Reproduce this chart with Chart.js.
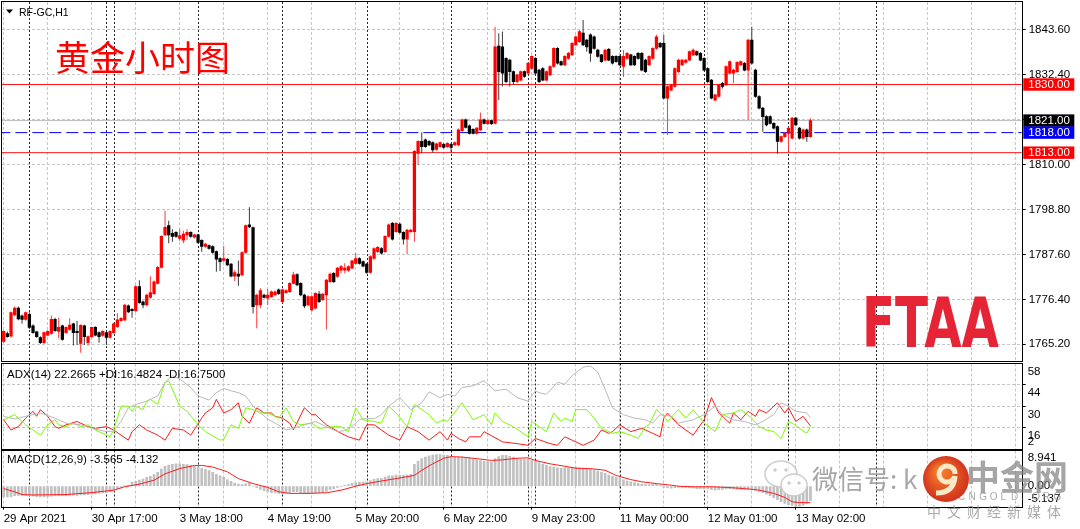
<!DOCTYPE html>
<html>
<head>
<meta charset="utf-8">
<script src="https://cdn.jsdelivr.net/npm/chart.js@4.4.1/dist/chart.umd.min.js"></script>
<style>
  html, body { margin: 0; padding: 0; background: #fff; }
  #wrap { position: relative; width: 1080px; height: 529px; overflow: hidden; background: #fff; }
  canvas { position: absolute; left: 0; }
</style>
</head>
<body>
<div id="wrap">
  <canvas id="main" width="1080" height="362" style="top:0px"></canvas>
  <canvas id="adx" width="1080" height="88" style="top:362px"></canvas>
  <canvas id="macd" width="1080" height="79" style="top:450px"></canvas>
</div>
<script>
// RF-GC H1, 29 Apr - 13 May 2021, one value per hourly bar
const opens = [
  1765.9,1767.9,1767.2,1772.5,1774.2,1772.3,1771.4,1772.7,1769.8,1768.3,
  1766.9,1765.6,1767.5,1767.9,1771.4,1768.4,1769.8,1768.1,1768.9,1770.3,
  1768.4,1765.4,1769.8,1765.6,1767.1,1769.4,1768.1,1767.4,1768.1,1766.9,
  1768.1,1769.6,1771.1,1771.3,1774.8,1773.9,1773.6,1779.6,1775.8,1775.0,
  1776.9,1777.8,1780.4,1784.4,1792.5,1794.8,1792.9,1793.1,1791.6,1791.2,
  1792.5,1793.1,1791.9,1792.5,1791.1,1789.6,1789.8,1789.6,1788.3,1786.6,
  1786.1,1786.4,1785.2,1782.2,1782.7,1782.5,1788.1,1795.0,1794.3,1775.0,
  1775.0,1777.5,1776.7,1777.1,1777.5,1778.8,1775.8,1778.1,1778.3,1780.4,
  1782.6,1780.4,1777.5,1775.0,1773.8,1774.2,1777.7,1776.3,1777.5,1780.8,
  1782.9,1782.1,1783.7,1783.7,1783.6,1784.2,1785.4,1786.6,1785.8,1785.2,
  1783.1,1786.6,1788.3,1789.1,1788.3,1792.1,1795.4,1793.3,1795.2,1793.1,
  1791.4,1793.3,1793.3,1812.8,1815.8,1816.2,1815.8,1815.5,1813.8,1814.5,
  1815.1,1814.5,1815.1,1814.9,1814.9,1818.5,1821.2,1819.7,1818.8,1817.8,
  1818.7,1821.2,1820.2,1821.0,1820.3,1839.6,1839.4,1836.5,1836.1,1833.2,
  1830.7,1831.1,1833.2,1832.8,1834.0,1836.5,1833.6,1834.0,1831.1,1832.4,
  1834.5,1839.0,1835.7,1834.9,1836.5,1837.4,1839.9,1840.7,1842.8,1841.1,
  1842.4,1841.9,1838.6,1837.4,1836.1,1838.8,1837.0,1837.0,1837.0,1834.5,
  1836.5,1837.4,1837.0,1837.8,1837.8,1836.1,1834.9,1836.5,1839.0,1840.3,
  1840.3,1826.6,1828.6,1829.5,1833.2,1834.9,1835.5,1836.1,1837.4,1838.2,
  1837.8,1836.5,1834.0,1831.1,1826.1,1827.0,1830.3,1829.9,1832.8,1832.8,
  1833.2,1834.9,1835.3,1833.6,1841.1,1833.6,1827.0,1824.1,1822.0,1822.0,
  1820.3,1819.5,1815.8,1817.0,1817.8,1816.6,1821.6,1819.1,1816.6,1818.7,
  1817.0
];
const highs = [
  1768.7,1768.4,1773.4,1774.6,1774.6,1772.6,1773.4,1773.2,1770.2,1768.6,
  1767.2,1768.4,1768.7,1772.4,1771.8,1771.8,1770.1,1769.7,1771.7,1770.6,
  1771.0,1770.2,1770.1,1767.4,1769.6,1769.7,1768.4,1768.7,1768.4,1768.7,
  1770.6,1773.0,1772.0,1775.3,1775.1,1774.2,1779.9,1781.2,1776.1,1777.8,
  1782.2,1781.1,1784.7,1792.4,1798.5,1796.0,1793.9,1793.4,1793.9,1793.5,
  1793.9,1793.4,1792.8,1792.8,1791.4,1790.5,1790.1,1789.9,1788.6,1786.9,
  1789.7,1786.7,1785.5,1783.7,1786.1,1788.4,1795.1,1799.4,1794.6,1777.8,
  1779.2,1777.8,1779.0,1778.6,1778.6,1779.1,1779.1,1778.9,1780.7,1783.3,
  1782.9,1780.7,1777.8,1777.4,1777.4,1778.2,1778.5,1778.0,1781.5,1783.1,
  1783.2,1784.5,1785.0,1785.4,1784.9,1786.3,1787.9,1786.9,1786.1,1785.5,
  1787.4,1789.4,1789.7,1789.4,1792.4,1795.3,1795.7,1795.7,1795.5,1793.4,
  1794.0,1794.0,1813.6,1816.1,1818.1,1816.5,1816.1,1815.8,1815.5,1815.8,
  1815.4,1815.6,1815.4,1815.8,1819.0,1821.5,1821.5,1820.0,1819.1,1819.4,
  1823.0,1821.5,1821.3,1821.3,1844.4,1842.8,1843.2,1836.8,1836.4,1833.5,
  1832.7,1833.5,1833.5,1835.6,1837.3,1836.8,1833.9,1834.3,1833.5,1834.8,
  1839.3,1839.3,1836.0,1837.3,1838.1,1840.6,1842.2,1843.6,1846.1,1841.4,
  1842.7,1842.2,1838.9,1837.7,1838.9,1839.1,1837.3,1837.3,1837.3,1838.6,
  1838.1,1837.7,1837.3,1838.1,1838.1,1836.4,1837.3,1839.3,1842.4,1840.6,
  1842.4,1829.8,1830.2,1834.3,1836.4,1836.4,1836.4,1838.5,1839.0,1838.5,
  1838.1,1836.8,1834.3,1831.4,1827.7,1830.2,1830.6,1834.8,1836.0,1833.9,
  1835.8,1836.0,1835.6,1841.4,1844.4,1833.9,1827.3,1824.4,1822.3,1822.3,
  1820.6,1819.8,1817.3,1818.1,1819.4,1821.9,1821.9,1819.4,1819.0,1819.0,
  1821.6
];
const lows = [
  1765.6,1766.8,1766.9,1772.2,1771.2,1770.3,1771.1,1769.0,1767.8,1766.8,
  1765.3,1765.3,1767.2,1767.6,1768.3,1766.7,1766.1,1767.8,1768.6,1764.9,
  1765.0,1763.1,1765.0,1764.9,1766.8,1767.2,1765.6,1767.1,1765.0,1766.6,
  1767.8,1769.3,1770.8,1771.0,1773.0,1771.8,1773.3,1775.3,1774.2,1774.7,
  1776.6,1777.5,1780.1,1784.1,1792.2,1790.4,1790.8,1791.8,1791.0,1790.4,
  1791.2,1791.8,1791.6,1790.3,1788.3,1789.3,1788.8,1787.8,1783.3,1783.5,
  1785.8,1784.7,1781.9,1781.0,1779.8,1782.2,1787.8,1794.2,1772.9,1769.2,
  1774.2,1776.6,1775.0,1776.8,1777.2,1777.5,1775.5,1777.8,1778.0,1780.1,
  1779.7,1777.2,1774.2,1774.7,1773.3,1773.9,1775.5,1776.0,1768.9,1780.5,
  1780.5,1781.8,1782.9,1782.9,1783.3,1783.9,1785.1,1785.1,1784.4,1782.8,
  1782.8,1786.3,1788.0,1787.6,1788.0,1791.8,1791.1,1793.0,1792.8,1790.1,
  1787.7,1793.0,1790.8,1809.9,1812.8,1814.2,1814.6,1813.0,1813.5,1814.2,
  1814.0,1814.2,1813.0,1814.6,1814.6,1818.2,1819.0,1817.5,1817.5,1817.5,
  1818.4,1820.0,1819.9,1819.9,1820.0,1826.1,1829.5,1830.4,1829.5,1829.9,
  1830.4,1830.8,1831.7,1832.5,1833.7,1832.5,1830.4,1830.8,1830.8,1832.1,
  1834.2,1835.0,1834.6,1834.6,1836.2,1837.1,1839.6,1840.4,1839.6,1838.2,
  1835.7,1838.7,1836.7,1835.4,1835.8,1835.8,1835.0,1835.4,1834.6,1831.9,
  1836.2,1834.6,1834.6,1836.2,1833.3,1832.9,1834.6,1836.2,1838.7,1839.1,
  1826.3,1817.4,1828.3,1829.2,1832.9,1834.6,1835.2,1835.8,1837.1,1837.1,
  1835.8,1833.3,1830.4,1826.3,1825.8,1826.7,1829.0,1829.6,1832.5,1830.3,
  1832.9,1834.6,1833.3,1821.2,1835.0,1826.7,1823.8,1818.2,1819.6,1820.0,
  1818.8,1812.7,1815.5,1816.7,1813.3,1816.3,1819.6,1816.3,1816.3,1815.7,
  1816.7
];
const closes = [
  1768.4,1767.1,1773.1,1774.2,1771.5,1771.4,1773.1,1769.4,1768.1,1767.1,
  1765.6,1768.1,1768.4,1771.4,1768.6,1769.4,1766.4,1769.4,1770.0,1768.1,
  1768.1,1769.9,1767.1,1767.1,1769.4,1767.5,1767.1,1768.4,1766.9,1768.4,
  1770.3,1771.3,1771.7,1775.0,1773.3,1773.6,1779.6,1775.6,1775.0,1777.5,
  1778.1,1780.8,1784.4,1792.1,1794.4,1792.5,1792.1,1792.1,1792.3,1792.7,
  1793.1,1792.1,1792.5,1790.6,1789.6,1790.2,1789.1,1788.1,1786.4,1785.8,
  1786.6,1785.0,1782.2,1783.1,1782.2,1788.1,1794.8,1794.5,1774.6,1777.5,
  1778.6,1776.9,1777.5,1778.3,1778.3,1777.8,1778.8,1778.6,1780.4,1782.5,
  1780.0,1777.5,1774.8,1777.1,1777.1,1777.9,1775.8,1777.7,1781.2,1782.7,
  1780.8,1784.2,1784.6,1784.2,1784.6,1786.0,1786.6,1785.4,1784.7,1783.1,
  1787.1,1789.1,1789.4,1787.9,1792.1,1795.0,1791.4,1795.4,1793.1,1791.4,
  1793.7,1793.7,1813.3,1815.8,1814.5,1814.5,1814.9,1813.7,1815.2,1815.5,
  1814.3,1815.3,1814.3,1815.5,1818.7,1821.2,1819.3,1817.8,1817.8,1819.1,
  1821.2,1820.3,1821.0,1820.2,1839.4,1833.2,1832.8,1830.7,1833.2,1830.7,
  1832.4,1833.2,1832.0,1835.3,1837.0,1832.8,1830.7,1831.1,1833.2,1834.5,
  1839.0,1835.3,1834.9,1837.0,1837.8,1840.3,1841.9,1843.2,1839.9,1839.4,
  1837.8,1839.0,1837.0,1835.7,1838.6,1836.1,1835.3,1835.7,1834.9,1837.0,
  1837.8,1834.9,1834.9,1836.5,1833.6,1833.2,1837.0,1839.0,1841.9,1839.4,
  1826.6,1829.5,1829.9,1834.0,1836.1,1836.1,1836.1,1838.2,1838.6,1837.4,
  1836.1,1833.6,1830.7,1826.6,1827.4,1829.9,1829.5,1834.5,1835.7,1833.6,
  1835.5,1835.7,1833.6,1841.1,1835.3,1827.0,1824.1,1822.0,1819.9,1820.3,
  1819.1,1815.8,1817.0,1817.8,1819.1,1821.6,1819.9,1816.6,1818.7,1817.0,
  1821.0
];

// horizontal levels drawn on the chart
const redLevels = [1830.0, 1813.0];
const blueLevel = 1818.0;
const bidPrice = 1821.0;
const tagPrices = [1830.0, 1821.0, 1818.0, 1813.0];
const priceTicks = [1843.6, 1832.4, 1821.2, 1810.0, 1798.8, 1787.6, 1776.4, 1765.2];

// time axis (bar index of each label) and day separators
const timeLabels = ['29 Apr 2021','30 Apr 17:00','3 May 18:00','4 May 19:00','5 May 20:00',
                    '6 May 22:00','9 May 23:00','11 May 00:00','12 May 01:00','13 May 02:00'];
const labelBars = [0, 24, 48, 72, 96, 120, 144, 168, 192, 216];
const dayStarts = [7, 28, 30, 53, 76, 99, 122, 143, 145, 168, 191, 214, 238];

// ADX(14): bar index / value pairs read at the turning points
const adxBars = [0,3,6,10,14,17,21,24,28,30,32,34,36,39,42,44,46,48,51,53,56,58,60,62,64,66,68,70,72,74,77,79,82,85,88,91,93,95,97,99,101,103,105,108,111,114,116,119,121,123,125,128,131,134,137,140,143,145,146,148,151,153,155,158,160,162,164,166,169,172,175,177,179,182,184,186,188,191,194,196,199,202,205,207,210,212,214,216,219,220];
const adxVals = [23.2,21.4,23.2,25.4,22.0,18.7,17.6,15.3,13.1,13.5,19.8,28.8,31.0,33.2,36.6,45.6,50.0,47.8,42.2,36.6,33.9,38.8,41.5,40.0,38.8,36.6,29.9,25.4,21.4,18.7,14.2,15.3,17.6,19.8,16.4,13.1,13.8,16.5,21.0,22.0,21.5,24.3,29.9,35.5,27.6,32.1,39.3,35.5,37.7,36.6,42.2,43.3,46.7,40.0,41.1,35.5,33.2,40.0,38.8,37.7,45.6,44.4,50.0,55.6,56.3,52.3,41.1,28.8,24.3,22.0,20.9,18.7,24.3,23.2,18.7,19.8,20.9,24.3,29.9,24.3,20.9,19.8,17.6,19.8,24.3,32.1,29.9,26.5,25.4,22.3];
const plusBars = [0,3,4,6,8,10,12,14,15,17,19,21,23,25,29,30,32,34,35,36,38,39,40,42,44,45,48,50,53,55,59,60,62,64,66,68,70,72,74,75,77,79,81,84,86,90,92,94,96,98,101,103,105,107,110,112,116,118,120,121,125,128,131,133,134,136,139,143,144,146,148,150,152,153,155,156,159,161,163,165,166,168,171,173,175,176,178,180,181,184,186,188,191,194,196,199,201,204,206,208,210,212,214,215,217,219,220];
const plusVals = [20.9,24.3,22.0,17.6,14.2,10.8,17.6,20.9,17.6,16.4,18.7,16.4,17.6,14.2,9.7,14.2,29.9,29.9,26.5,29.9,27.6,33.2,34.4,31.0,45.6,46.7,29.9,26.5,17.6,13.1,7.5,7.9,17.6,15.3,28.8,27.6,25.4,25.4,23.2,22.0,28.8,19.8,17.6,18.7,15.3,16.4,16.4,13.1,28.8,20.9,19.8,18.7,29.9,25.4,16.4,31.0,24.3,18.7,20.9,19.8,32.1,20.9,24.3,17.6,25.4,19.8,16.4,9.7,19.8,16.4,13.1,25.4,19.8,22.0,19.8,27.6,27.6,22.0,15.3,13.1,12.0,13.1,10.8,8.6,16.4,17.6,27.6,23.2,19.8,27.6,22.0,27.6,18.7,13.1,24.3,25.4,27.6,22.0,16.4,14.2,13.1,8.6,19.8,18.7,15.3,12.0,16.5];
const minusBars = [0,2,4,6,8,9,10,12,14,15,17,20,23,25,28,30,32,34,35,37,39,42,44,46,49,51,54,55,57,58,60,62,64,65,67,69,71,73,74,76,78,79,82,84,85,88,92,94,97,99,101,103,105,108,110,113,116,119,121,122,124,126,127,130,131,136,140,143,145,149,151,153,155,158,161,163,165,166,168,171,174,176,179,180,181,184,188,191,193,195,198,199,201,203,205,206,208,211,213,214,216,218,220];
const minusVals = [20.9,14.2,16.4,22.0,26.5,23.2,27.6,23.2,16.4,15.3,17.6,19.8,16.4,15.3,16.4,14.2,10.8,7.5,13.1,17.6,14.2,10.8,7.5,15.3,14.2,10.8,22.0,25.4,28.8,34.4,25.4,27.6,32.1,23.2,18.7,28.8,25.4,25.4,23.2,22.0,18.7,14.2,28.8,24.3,24.3,17.6,12.0,9.7,7.5,17.6,17.6,14.2,10.8,7.5,16.4,13.1,7.5,13.1,7.5,12.0,8.6,6.4,9.7,9.7,13.1,6.4,5.2,4.1,8.6,5.2,4.1,9.7,7.5,4.1,7.5,14.2,12.0,13.1,17.6,13.1,15.3,13.1,9.7,22.0,25.4,17.6,10.8,20.9,35.5,25.4,18.7,25.4,20.9,26.5,23.2,27.6,25.4,32.1,25.4,28.8,19.8,23.2,16.8];

// MACD(12,26,9): main value per bar (histogram) and the signal line
const macdMain = [
  -2.7,-2.7,-2.6,-2.4,-2.3,-2.3,-2.3,-2.4,-2.5,-2.6,
  -2.7,-2.7,-2.6,-2.5,-2.4,-2.4,-2.4,-2.4,-2.3,-2.3,
  -2.3,-2.2,-2.2,-2.1,-2.0,-1.9,-1.8,-1.7,-1.6,-1.4,
  -1.2,-0.6,-0.3,0.1,0.3,1.0,1.2,1.5,1.8,2.2,
  2.5,2.9,3.5,4.3,5.0,5.3,5.5,5.6,5.6,5.5,
  5.4,5.2,5.0,4.8,4.5,4.2,3.9,3.5,3.0,2.6,
  2.2,1.6,1.2,0.8,0.5,0.4,0.6,0.8,0.0,-0.4,
  -0.8,-1.1,-1.4,-1.6,-1.7,-1.8,-1.8,-1.7,-1.6,-1.4,
  -1.4,-1.6,-1.8,-1.8,-1.8,-1.7,-1.6,-1.6,-1.3,-0.9,
  -0.6,-0.3,-0.1,0.2,0.4,0.7,0.9,1.0,1.1,1.1,
  1.4,1.7,1.9,2.0,2.3,2.6,2.6,2.8,2.8,2.7,
  2.8,3.0,5.5,6.3,6.9,7.3,7.6,7.8,7.9,7.9,
  7.8,7.7,7.5,7.3,7.3,7.3,7.2,7.0,6.8,6.6,
  6.4,6.2,6.1,6.0,6.9,7.4,7.7,7.7,7.5,7.3,
  7.0,6.7,6.7,6.8,6.5,6.2,5.9,5.5,5.2,4.9,
  4.8,4.6,4.5,4.6,4.6,4.7,4.8,4.6,4.5,4.4,
  4.3,4.1,3.8,3.5,3.2,2.8,2.5,2.2,1.9,1.6,
  1.3,1.1,0.9,0.7,0.5,0.4,0.4,0.5,0.5,0.2,
  -0.3,-0.4,-0.5,-0.4,-0.3,-0.3,-0.3,-0.4,-0.5,-0.6,
  -0.6,-0.7,-0.7,-0.9,-1.0,-0.9,-0.8,-0.7,-0.6,-0.7,
  -0.8,-0.9,-0.9,-0.8,-0.7,-1.0,-1.3,-1.6,-2.0,-2.4,
  -2.9,-3.4,-3.9,-4.3,-4.6,-4.8,-5.1,-5.1,-4.8,-4.3,
  -3.6
];
const signalBars = [0,3,5,8,17,24,30,33,37,41,44,48,52,54,57,61,64,68,72,75,78,83,88,92,96,99,103,107,112,114,117,120,122,125,129,133,136,140,143,145,149,153,156,160,164,167,171,174,178,182,184,188,193,197,202,206,210,213,215,217,220];
const signalVals = [-0.6,-1.4,-2.1,-2.2,-2.1,-1.6,-1.0,-0.15,0.5,1.5,3.1,4.4,5.2,5.2,4.8,3.6,1.9,0.65,-0.3,-1.4,-1.8,-1.8,-1.65,-1.0,0,0.65,1.3,1.9,2.7,4.0,5.6,7.0,7.4,7.3,6.9,6.45,6.6,7.0,7.1,6.45,5.6,5.0,4.5,4.4,4.0,2.7,1.65,1.1,0.65,0.25,0,-0.15,-0.15,-0.3,-0.6,-1.0,-1.8,-2.8,-3.9,-4.1,-4.13];
const adxAxis = [58, 44, 30, 16, 2];
const macdAxis = [8.941, 0, -5.137];

// ---- styling ----
const FONT = '"Liberation Sans", Arial, sans-serif';
const GRID = '#c6c6c6';
const X_MIN = -0.46, X_MAX = 277.6;
const AXIS_W = 58.3;
const gridBars = Array.from({length: 24}, (_, k) => k * 12);

Chart.defaults.font.family = FONT;
Chart.defaults.font.size = 11.5;
Chart.defaults.color = '#000';
Chart.defaults.animation = false;

// no automatic label padding: the plot area must sit exactly where MT4 puts it
function noPad(s) {
  s.paddingTop = 0; s.paddingBottom = 0; s.paddingLeft = 0; s.paddingRight = 0;
}

function xAxis(withLabels) {
  return {
    type: 'linear', min: X_MIN, max: X_MAX, offset: false,
    afterBuildTicks: s => { s.ticks = gridBars.map(v => ({value: v})); },
    afterFit: s => { s.height = withLabels ? 22.3 : 0; noPad(s); },
    grid: {
      color: GRID, offset: false, drawTicks: withLabels, tickLength: 3, tickBorderDash: [],
      tickColor: c => (c.tick && labelBars.includes(c.tick.value)) ? '#000' : 'rgba(0,0,0,0)'
    },
    border: { display: false, dash: [3, 2] },
    ticks: {
      display: withLabels, autoSkip: false, maxRotation: 0, minRotation: 0,
      align: 'start', padding: 2, color: '#000',
      callback: v => { const k = labelBars.indexOf(v); return k < 0 ? '' : timeLabels[k]; }
    }
  };
}

// frame + period separators for each sub window
const panelPlugin = {
  id: 'panel',
  beforeDatasetsDraw(chart) {
    const {ctx, chartArea: a, scales: {x}} = chart;
    ctx.save();
    ctx.beginPath();
    ctx.rect(a.left, a.top, a.right - a.left, a.bottom - a.top);
    ctx.clip();
    ctx.strokeStyle = 'rgba(0,0,0,0.85)';
    ctx.lineWidth = 1;
    ctx.setLineDash([2, 2]);
    dayStarts.forEach(b => {
      const px = Math.round(x.getPixelForValue(b)) + 0.5;
      ctx.beginPath(); ctx.moveTo(px, a.top); ctx.lineTo(px, a.bottom); ctx.stroke();
    });
    ctx.restore();
  },
  afterDraw(chart) {
    const {ctx, chartArea: a} = chart;
    ctx.save();
    ctx.strokeStyle = '#000';
    ctx.lineWidth = 1;
    const l = Math.round(a.left) - 0.5, t = Math.round(a.top) - 0.5;
    const r = Math.round(a.right) + 0.5, b = Math.round(a.bottom) + 0.5;
    ctx.strokeRect(l, t, r - l, b - t);
    ctx.restore();
  }
};

const UP = '#ff0000', DOWN = '#000000';
const UP_WICK = '#ff3a3a', DOWN_WICK = '#3a3a3a';
const upBar = opens.map((o, i) => closes[i] >= o);

const mainDeco = {
  id: 'mainDeco',
  afterDraw(chart) {
    const {ctx, chartArea: a, scales: {y}} = chart;
    const tagColors = ['#ff0000', '#000000', '#0000ff', '#ff0000'];
    ctx.save();
    ctx.font = '11.5px ' + FONT;
    ctx.textBaseline = 'middle';
    tagPrices.forEach((v, k) => {
      const py = y.getPixelForValue(v);
      ctx.fillStyle = tagColors[k];
      ctx.fillRect(a.right + 1.6, py - 6.2, 51, 12.4);
      ctx.fillStyle = '#fff';
      ctx.fillText(v.toFixed(2), a.right + 6.6, py + 0.5);
    });
    // window title
    ctx.fillStyle = '#000';
    ctx.beginPath(); ctx.moveTo(6, 9.5); ctx.lineTo(13, 9.5); ctx.lineTo(9.5, 13.5); ctx.closePath(); ctx.fill();
    ctx.font = '10.5px ' + FONT;
    ctx.fillText('RF-GC,H1', 19, 12.7);
    // chart caption
    ctx.fillStyle = '#ff0000';
    ctx.font = '35px "Noto Sans CJK SC"';
    ctx.fillText('黄金小时图', 55, 58);
    // FTAA logo
    ctx.save();
    ctx.translate(862, 346.7);
    ctx.scale(0.70, 1);
    ctx.font = 'bold 69px "DejaVu Sans"';
    ctx.textBaseline = 'alphabetic';
    ctx.fillStyle = '#e52536';
    ctx.fillText('FTAA', 0, 0);
    ctx.restore();
    ctx.restore();
  }
};

new Chart(document.getElementById('main'), {
  type: 'bar',
  data: {
    datasets: [
      {
        type: 'line', data: [{x: X_MIN - 1, y: bidPrice}, {x: X_MAX + 1, y: bidPrice}],
        borderColor: '#bdbdbd', borderWidth: 1, pointRadius: 0, order: 6
      },
      {
        type: 'line', data: [{x: X_MIN - 1, y: blueLevel}, {x: X_MAX + 1, y: blueLevel}],
        borderColor: '#0000ff', borderWidth: 1, borderDash: [12, 5], pointRadius: 0, order: 5
      },
      ...redLevels.map(v => ({
        type: 'line', data: [{x: X_MIN - 1, y: v}, {x: X_MAX + 1, y: v}],
        borderColor: '#ff1a1a', borderWidth: 1, pointRadius: 0, order: 5
      })),
      {
        data: lows.map((l, i) => ({x: i, y: [l, highs[i]]})),
        backgroundColor: upBar.map(u => u ? UP_WICK : DOWN_WICK),
        barThickness: 1, grouped: false, inflateAmount: 0, order: 2
      },
      {
        data: opens.map((o, i) => ({x: i, y: [o, closes[i]]})),
        backgroundColor: upBar.map(u => u ? UP : DOWN),
        barThickness: 2.6, minBarLength: 1, grouped: false, order: 1
      }
    ]
  },
  options: {
    responsive: false, events: [],
    layout: { padding: { left: 2, top: 2, right: 0, bottom: 1 } },
    plugins: { legend: { display: false }, tooltip: { enabled: false } },
    scales: {
      x: xAxis(false),
      y: {
        position: 'right', min: 1761.03, max: 1850.58,
        afterBuildTicks: s => { s.ticks = priceTicks.map(v => ({value: v})); },
        afterFit: s => { s.width = AXIS_W; noPad(s); },
        grid: { color: GRID, tickColor: '#000', tickLength: 4, tickBorderDash: [] },
        border: { display: false, dash: [3, 2] },
        ticks: { padding: 3, autoSkip: false, callback: v => v.toFixed(2) }
      }
    }
  },
  plugins: [panelPlugin, mainDeco]
});

// ---- ADX window ----
const adxDeco = {
  id: 'adxDeco',
  afterDraw(chart) {
    const {ctx, chartArea: a, scales: {y}} = chart;
    ctx.save();
    ctx.font = '11.5px ' + FONT;
    ctx.fillStyle = '#000';
    ctx.textBaseline = 'middle';
    ctx.fillText('ADX(14) 22.2665 +DI:16.4824 -DI:16.7500', 7, 12.5);
    adxAxis.forEach(v => {
      const off = v === 2 ? -7 : 8.5;
      ctx.fillText(String(v), a.right + 6, y.getPixelForValue(v) + off);
    });
    ctx.restore();
  }
};
const pairs = (bars, vals) => bars.map((b, k) => ({x: b, y: vals[k]}));

new Chart(document.getElementById('adx'), {
  type: 'line',
  data: {
    datasets: [
      { data: pairs(adxBars, adxVals), borderColor: '#b9b9b9', borderWidth: 1, pointRadius: 0, tension: 0 },
      { data: pairs(plusBars, plusVals), borderColor: '#7cfc00', borderWidth: 1, pointRadius: 0, tension: 0 },
      { data: pairs(minusBars, minusVals), borderColor: '#ff1a1a', borderWidth: 1, pointRadius: 0, tension: 0 }
    ]
  },
  options: {
    responsive: false, events: [],
    layout: { padding: { left: 2, top: 1.5, right: 0, bottom: 1.5 } },
    plugins: { legend: { display: false }, tooltip: { enabled: false } },
    scales: {
      x: xAxis(false),
      y: {
        position: 'right', min: 2, max: 58,
        afterBuildTicks: s => { s.ticks = [44, 30, 16].map(v => ({value: v})); },
        afterFit: s => { s.width = AXIS_W; noPad(s); },
        grid: { color: GRID, tickColor: '#000', tickLength: 4, tickBorderDash: [] },
        border: { display: false, dash: [3, 2] },
        ticks: { display: false }
      }
    }
  },
  plugins: [panelPlugin, adxDeco]
});

// ---- MACD window ----
const macdDeco = {
  id: 'macdDeco',
  afterDraw(chart) {
    const {ctx, chartArea: a, scales: {y}} = chart;
    ctx.save();
    ctx.font = '11.5px ' + FONT;
    ctx.fillStyle = '#000';
    ctx.textBaseline = 'middle';
    ctx.fillText('MACD(12,26,9) -3.565 -4.132', 7, 10);
    const offs = [7.5, 0, -8];
    macdAxis.forEach((v, k) => {
      ctx.fillText(v === 0 ? '0.00' : String(v), a.right + 6, y.getPixelForValue(v) + offs[k]);
    });

    // watermark (wechat + cngold)
    ctx.globalAlpha = 0.9;
    ctx.lineWidth = 1.5;
    ctx.strokeStyle = '#c8c8c8';
    ctx.fillStyle = '#ffffff';
    ctx.beginPath(); ctx.ellipse(781, 24, 16, 13, 0, 0, Math.PI * 2); ctx.fill(); ctx.stroke();
    ctx.beginPath(); ctx.ellipse(794, 35, 13, 11, 0, 0, Math.PI * 2); ctx.fill(); ctx.stroke();
    ctx.fillStyle = '#c8c8c8';
    [[775, 20], [786, 20], [789, 33], [799, 33]].forEach(p => {
      ctx.beginPath(); ctx.arc(p[0], p[1], 1.8, 0, Math.PI * 2); ctx.fill();
    });
    ctx.fillStyle = 'rgba(140,140,140,0.85)';
    ctx.font = '26px "Noto Sans CJK SC"';
    ctx.fillText('微信号: k', 812, 29);

    ctx.fillStyle = 'rgba(130,130,130,0.8)';
    ctx.font = 'bold 34px "Noto Sans CJK SC"';
    ctx.fillText('中金网', 966, 27);
    ctx.font = '10px ' + FONT;
    ctx.fillStyle = 'rgba(150,150,150,0.9)';
    'CNGOLD.ORG'.split('').forEach((ch, k) => ctx.fillText(ch, 958 + k * 10.6, 47));
    ctx.font = '14px "Noto Sans CJK SC"';
    '中文财经新媒体'.split('').forEach((ch, k) => ctx.fillText(ch, 927 + k * 20, 62));

    const cx = 946, cy = 29;
    const g = ctx.createRadialGradient(cx - 6, cy - 8, 4, cx, cy, 24);
    g.addColorStop(0, '#f47a2a');
    g.addColorStop(1, '#d0301c');
    ctx.globalAlpha = 1;
    ctx.fillStyle = g;
    ctx.beginPath(); ctx.arc(cx, cy, 23, 0, Math.PI * 2); ctx.fill();
    ctx.strokeStyle = '#fde8c8';
    ctx.lineWidth = 5;
    ctx.beginPath(); ctx.arc(cx + 1, cy - 5, 8, 0.1 * Math.PI, 2.0 * Math.PI); ctx.stroke();
    ctx.beginPath(); ctx.moveTo(cx + 9, cy - 3); ctx.quadraticCurveTo(cx + 8, cy + 14, cx - 10, cy + 14); ctx.stroke();
    ctx.restore();
  }
};

new Chart(document.getElementById('macd'), {
  type: 'bar',
  data: {
    datasets: [
      {
        type: 'line', data: pairs(signalBars, signalVals),
        borderColor: '#ff1a1a', borderWidth: 1, pointRadius: 0, tension: 0, order: 1
      },
      {
        data: macdMain.map((v, i) => ({x: i, y: v})),
        backgroundColor: '#c0c0c0', barThickness: 2, grouped: false, order: 2
      }
    ]
  },
  options: {
    responsive: false, events: [],
    layout: { padding: { left: 2, top: 0.5, right: 0, bottom: 0 } },
    plugins: { legend: { display: false }, tooltip: { enabled: false } },
    scales: {
      x: xAxis(true),
      y: {
        position: 'right', min: -5.137, max: 8.941,
        afterFit: s => { s.width = AXIS_W; noPad(s); },
        grid: { drawOnChartArea: false, drawTicks: false },
        border: { display: false },
        ticks: { display: false }
      }
    }
  },
  plugins: [panelPlugin, macdDeco]
});
</script>
</body>
</html>
